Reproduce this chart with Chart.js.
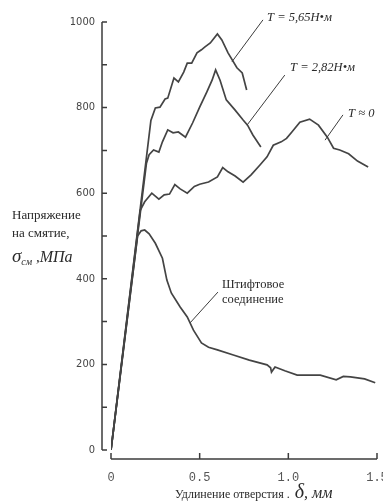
<!DOCTYPE html>
<html>
<head>
<meta charset="utf-8">
<script src="https://cdn.jsdelivr.net/npm/chart.js@4.4.1/dist/chart.umd.min.js"></script>
<style>
    html, body { margin: 0; padding: 0; background: #fff; }
    #wrap { width: 383px; height: 502px; position: relative; }
</style>
</head>
<body>
<div id="wrap"><canvas id="chart"></canvas></div>
<script>
// Данные (δ, мм — σ_см, МПа)
const t565X = [0, 0.225, 0.25, 0.276, 0.305, 0.32, 0.355, 0.38, 0.41, 0.43, 0.455, 0.485, 0.51, 0.53, 0.56, 0.6, 0.625, 0.66, 0.71, 0.74, 0.765];
const t565Y = [0, 770, 799, 801, 820, 822, 869, 860, 883, 904, 904, 928, 935, 942, 951, 972, 958, 928, 893, 881, 841];

const t282X = [0, 0.2, 0.215, 0.24, 0.27, 0.29, 0.32, 0.35, 0.38, 0.42, 0.46, 0.5, 0.54, 0.57, 0.59, 0.615, 0.65, 0.7, 0.745, 0.77, 0.8, 0.845];
const t282Y = [0, 670, 690, 701, 696, 720, 748, 741, 743, 731, 764, 801, 836, 864, 888, 864, 818, 794, 771, 759, 736, 708];

const t0X = [0, 0.165, 0.19, 0.23, 0.27, 0.3, 0.33, 0.36, 0.39, 0.43, 0.47, 0.5, 0.55, 0.6, 0.63, 0.66, 0.7, 0.745, 0.79, 0.84, 0.88, 0.915, 0.96, 0.99, 1.02, 1.065, 1.12, 1.17, 1.22, 1.255, 1.29, 1.34, 1.39, 1.45];
const t0Y = [0, 560, 580, 600, 586, 596, 598, 620, 610, 600, 616, 621, 626, 638, 660, 650, 640, 626, 643, 666, 685, 712, 720, 728, 743, 766, 773, 759, 731, 705, 701, 692, 675, 661];

const pinX = [0, 0.15, 0.17, 0.19, 0.215, 0.25, 0.29, 0.315, 0.34, 0.39, 0.43, 0.465, 0.51, 0.55, 0.6, 0.69, 0.78, 0.88, 0.9, 0.905, 0.925, 0.98, 1.05, 1.12, 1.18, 1.27, 1.31, 1.35, 1.43, 1.49];
const pinY = [0, 500, 512, 514, 505, 483, 448, 397, 367, 334, 311, 280, 250, 240, 234, 222, 210, 199, 192, 182, 194, 185, 175, 175, 175, 164, 172, 171, 166, 157];

const yTicks = [0, 200, 400, 600, 800, 1000];
const xTicks = [0, 0.5, 1.0, 1.5];

const zip = (xs, ys) => xs.map((x, i) => ({ x, y: ys[i] }));

const INK = '#3c3c3c';
const SERIF = "'Liberation Serif', 'DejaVu Serif', serif";

// Рисует строку из кусков разными шрифтами
function drawRuns(ctx, x, y, runs) {
    runs.forEach(([text, font, dy]) => {
        ctx.font = font;
        ctx.fillText(text, x, y + (dy || 0));
        x += ctx.measureText(text).width;
    });
}

// Оси, отнесённые от области графика, подписи и выноски
const decorPlugin = {
    id: 'decor',
    afterDraw(chart) {
        const { ctx, scales: { x, y } } = chart;
        const px = v => x.getPixelForValue(v);
        const py = v => y.getPixelForValue(v);
        ctx.save();
        ctx.strokeStyle = INK;
        ctx.lineWidth = 1.5;

        const sx = x.left - 9;
        ctx.beginPath();
        ctx.moveTo(sx, py(1000));
        ctx.lineTo(sx, py(0));
        y.ticks.forEach(t => {
            ctx.moveTo(sx, py(t.value));
            ctx.lineTo(sx + 5, py(t.value));
        });
        const sy = y.bottom + 9;
        ctx.moveTo(px(0), sy);
        ctx.lineTo(px(1.5), sy);
        x.ticks.forEach(t => {
            ctx.moveTo(px(t.value), sy);
            ctx.lineTo(px(t.value), sy - 6);
        });
        ctx.stroke();

        // выноски
        ctx.lineWidth = 1;
        const leaders = [
            [0.857, 1005, 0.682, 907],
            [0.98, 876, 0.767, 759],
            [1.308, 783, 1.207, 724],
            [0.603, 369, 0.446, 297]
        ];
        ctx.beginPath();
        leaders.forEach(([x1, y1, x2, y2]) => {
            ctx.moveTo(px(x1), py(y1));
            ctx.lineTo(px(x2), py(y2));
        });
        ctx.stroke();

        ctx.fillStyle = '#2a2a2a';
        ctx.textBaseline = 'alphabetic';
        ctx.textAlign = 'left';
        const it = s => `italic ${s}px ${SERIF}`;
        const rg = s => `${s}px ${SERIF}`;

        drawRuns(ctx, px(0.88), py(1012) + 4, [['T = 5,65Н•м', it(12.5)]]);
        drawRuns(ctx, px(1.01), py(895) + 4, [['T = 2,82Н•м', it(12.5)]]);
        drawRuns(ctx, px(1.337), py(787) + 4, [['T ≈ 0', it(12.5)]]);
        drawRuns(ctx, px(0.626), 288, [['Штифтовое', rg(12.5)]]);
        drawRuns(ctx, px(0.626), 303, [['соединение', rg(12.5)]]);

        // подпись оси Y
        drawRuns(ctx, 12, 219, [['Напряжение', rg(13)]]);
        drawRuns(ctx, 12, 237, [['на смятие,', rg(13)]]);
        drawRuns(ctx, 12, 262, [['σ', it(19)], ['см', it(10), 3], [' ,', it(15)], ['МПа', it(16)]]);

        // подпись оси X
        drawRuns(ctx, 175, 498, [['Удлинение отверстия .', rg(12)], [' δ', it(20)], [', мм', it(16)]]);
        ctx.restore();
    }
};

const lineStyle = {
    borderColor: '#444',
    borderWidth: 1.7,
    pointRadius: 0,
    tension: 0,
    fill: false
};

new Chart(document.getElementById('chart'), {
    type: 'line',
    data: {
        datasets: [
            { label: 'T = 5,65 Н·м', data: zip(t565X, t565Y), ...lineStyle },
            { label: 'T = 2,82 Н·м', data: zip(t282X, t282Y), ...lineStyle },
            { label: 'T ≈ 0', data: zip(t0X, t0Y), ...lineStyle },
            { label: 'Штифтовое соединение', data: zip(pinX, pinY), ...lineStyle }
        ]
    },
    options: {
        responsive: true,
        maintainAspectRatio: false,
        animation: false,
        devicePixelRatio: 1,
        layout: { autoPadding: false, padding: { left: 0, top: 22, right: 6, bottom: 0 } },
        plugins: { legend: { display: false }, tooltip: { enabled: false } },
        scales: {
            x: {
                type: 'linear',
                min: 0,
                max: 1.5,
                afterBuildTicks: s => { s.ticks = xTicks.map(v => ({ value: v })); },
                ticks: {
                    callback: v => v === 0 ? '0' : v.toFixed(1),
                    padding: 21,
                    maxRotation: 0,
                    color: '#555',
                    font: { family: "'Liberation Mono', 'DejaVu Sans Mono', monospace", size: 12 }
                },
                grid: { display: false, drawTicks: false },
                border: { display: false },
                afterFit: s => { s.height = 52; s.paddingLeft = 0; s.paddingRight = 0; }
            },
            y: {
                type: 'linear',
                min: 0,
                max: 1000,
                ticks: {
                    stepSize: 100,
                    callback: v => yTicks.includes(v) ? String(v) : '',
                    padding: 16,
                    color: '#444',
                    font: { family: "'Liberation Sans Narrow', 'DejaVu Sans Condensed', sans-serif", size: 11 }
                },
                grid: { display: false, drawTicks: false },
                border: { display: false },
                afterFit: s => { s.width = 111; s.paddingTop = 0; s.paddingBottom = 0; }
            }
        }
    },
    plugins: [decorPlugin]
});
</script>
</body>
</html>
